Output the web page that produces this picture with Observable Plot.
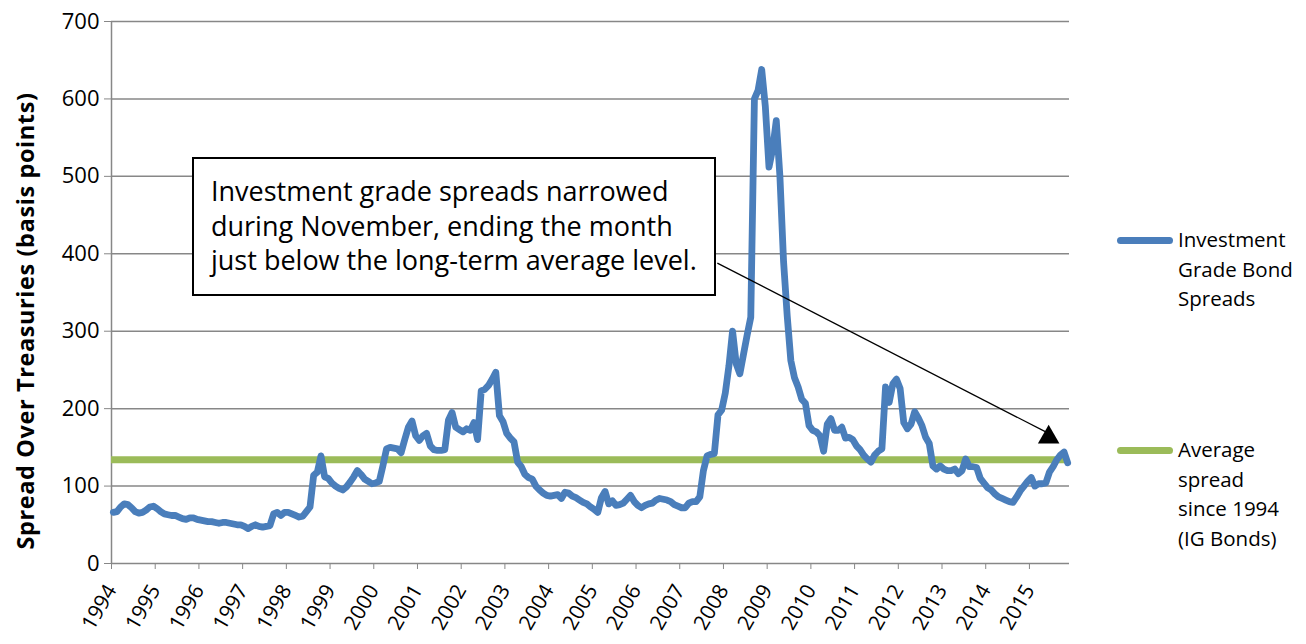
<!DOCTYPE html>
<html>
<head>
<meta charset="utf-8">
<script src="https://cdn.jsdelivr.net/npm/d3@7"></script>
<script src="https://cdn.jsdelivr.net/npm/@observablehq/plot@0.6"></script>
<style>
  html, body { margin: 0; padding: 0; background: #fff; }
  #wrap { position: relative; width: 1306px; height: 644px; font-family: "Open Sans", Lato, sans-serif; color: #000; }
  #chart { position: absolute; left: 0; top: 0; }
  .ylab { position: absolute; left: 25px; top: 321px; transform: translate(-50%, -50%) rotate(-90deg); white-space: nowrap; font-weight: bold; font-size: 23.5px; letter-spacing: 0.6px; }
  .note { position: absolute; left: 192px; top: 157px; width: 520px; height: 135px; border: 2px solid #000; background: #fff; box-sizing: content-box; }
  .note div { position: absolute; left: 17px; font-size: 27px; line-height: 34px; white-space: nowrap; }
  .leg { position: absolute; font-size: 20.5px; line-height: 29.5px; }
  .sw { position: absolute; height: 7px; border-radius: 3.5px; }
</style>
</head>
<body>
<div id="wrap">
  <div id="chart"></div>
</div>
<script>
// ---- data ----
const startYear = 1994;
const yearTicks = [1994,1995,1996,1997,1998,1999,2000,2001,2002,2003,2004,2005,2006,2007,2008,2009,2010,2011,2012,2013,2014,2015];
const yTicks = [0,100,200,300,400,500,600,700];
const averageSpread = 134;
// monthly investment grade spreads, Jan 1994 .. Nov 2015 (basis points)
const igSpreads = [
  66, 67, 73, 77, 76, 72, 67, 65, 66, 69, 73, 74,        // 1994
  71, 67, 64, 63, 62, 62, 60, 58, 57, 59, 59, 57,        // 1995
  56, 55, 54, 54, 53, 52, 53, 53, 52, 51, 50, 50,        // 1996
  48, 45, 48, 50, 48, 47, 48, 49, 64, 66, 62, 66,        // 1997
  66, 64, 62, 60, 61, 67, 73, 114, 118, 139, 112, 110,   // 1998
  104, 100, 97, 95, 99, 105, 112, 120, 115, 109, 106, 103, // 1999
  104, 106, 126, 148, 150, 149, 148, 143, 160, 176, 184, 165, // 2000
  159, 165, 168, 152, 147, 146, 146, 147, 185, 195, 176, 173, // 2001
  170, 174, 172, 182, 160, 223, 225, 230, 238, 247, 191, 183, // 2002
  168, 162, 157, 131, 125, 115, 111, 109, 100, 95, 91, 88,  // 2003
  87, 88, 89, 84, 92, 91, 87, 85, 82, 79, 77, 73,        // 2004
  70, 66, 85, 93, 77, 81, 75, 76, 78, 83, 88, 80,        // 2005
  75, 72, 75, 77, 78, 82, 84, 83, 82, 80, 76, 74,        // 2006
  72, 72, 78, 80, 80, 86, 120, 139, 141, 142, 192, 198,  // 2007
  220, 255, 300, 258, 245, 270, 295, 318, 600, 611, 638, 590, // 2008
  512, 535, 572, 500, 390, 320, 262, 240, 228, 212, 207, 178, // 2009
  172, 170, 165, 145, 180, 187, 172, 172, 176, 162, 163, 160, // 2010
  152, 147, 140, 135, 131, 140, 145, 148, 228, 208, 232, 238, // 2011
  226, 182, 174, 180, 196, 188, 178, 163, 155, 126, 122, 126, // 2012
  122, 120, 120, 122, 116, 120, 135, 125, 125, 124, 110, 104, // 2013
  98, 95, 90, 86, 84, 82, 80, 79, 86, 94, 100, 106,      // 2014
  111, 100, 103, 103, 104, 118, 125, 134, 140, 144, 130  // 2015
];
const seriesNames = ["Investment Grade Bond Spreads", "Average spread since 1994 (IG Bonds)"];
const seriesColors = ["#4A7EBB", "#9BBB59"];
const yTitle = "Spread Over Treasuries (basis points)";
const noteLines = ["Investment grade spreads narrowed", "during November, ending the month", "just below the long-term average level."];
// arrow annotation in data units (year, basis points)
const arrowFrom = {x: 2007.86, y: 388};
const arrowTo = {x: 2015.44, y: 168};
const arrowHead = {x: 2015.44, y: 163};

const table = igSpreads.map((v, i) => ({date: startYear + (i + 0.5) / 12, v}));
const xEnd = startYear + igSpreads.length / 12;

const chart = Plot.plot({
  width: 1100,
  height: 644,
  marginLeft: 111,
  marginRight: 31,
  marginTop: 21,
  marginBottom: 81,
  style: {fontFamily: "'Open Sans', Lato, sans-serif", color: "#000", background: "transparent"},
  x: {domain: [startYear, xEnd]},
  y: {domain: [0, 700]},
  marks: [
    Plot.ruleY(yTicks, {stroke: "#878787", strokeWidth: 1.5}),
    Plot.ruleX([startYear], {stroke: "#878787", strokeWidth: 1.5}),
    Plot.axisY({ticks: yTicks, tickSize: 7, tickPadding: 5, fontSize: 22, stroke: "#878787", fill: "#000", label: null, tickFormat: d => String(d)}),
    Plot.axisX({ticks: yearTicks, tickSize: 6, tickPadding: 17, tickRotate: -60, fontSize: 21, stroke: "#878787", fill: "#000", label: null, tickFormat: d => String(d)}),
    Plot.ruleY([averageSpread], {stroke: seriesColors[1], strokeWidth: 7}),
    Plot.line(table, {x: "date", y: "v", stroke: seriesColors[0], strokeWidth: 6.8, strokeLinejoin: "round", strokeLinecap: "round"}),
    Plot.link([{x1: arrowFrom.x, y1: arrowFrom.y, x2: arrowTo.x, y2: arrowTo.y}], {x1: "x1", y1: "y1", x2: "x2", y2: "y2", stroke: "#000", strokeWidth: 1.3}),
    Plot.dot([arrowHead], {x: "x", y: "y", symbol: "triangle", r: 8, fill: "#000", stroke: "none"})
  ]
});
document.getElementById("chart").appendChild(chart);

const wrap = document.getElementById("wrap");
const yl = document.createElement("div");
yl.className = "ylab";
yl.textContent = yTitle;
wrap.appendChild(yl);

const note = document.createElement("div");
note.className = "note";
noteLines.forEach((t, i) => {
  const d = document.createElement("div");
  d.textContent = t;
  d.style.top = (15 + i * 34.5) + "px";
  note.appendChild(d);
});
wrap.appendChild(note);

// legend
const legendItems = [
  {lines: ["Investment", "Grade Bond", "Spreads"], y: 240, color: seriesColors[0]},
  {lines: ["Average", "spread", "since 1994", "(IG Bonds)"], y: 450, color: seriesColors[1]}
];
legendItems.forEach(it => {
  const sw = document.createElement("div");
  sw.className = "sw";
  sw.style.left = "1117px";
  sw.style.width = "56px";
  sw.style.top = (it.y - 3.5) + "px";
  sw.style.background = it.color;
  wrap.appendChild(sw);
  const t = document.createElement("div");
  t.className = "leg";
  t.style.left = "1178px";
  t.style.top = (it.y - 15) + "px";
  t.innerHTML = it.lines.join("<br>");
  wrap.appendChild(t);
});
</script>
</body>
</html>
